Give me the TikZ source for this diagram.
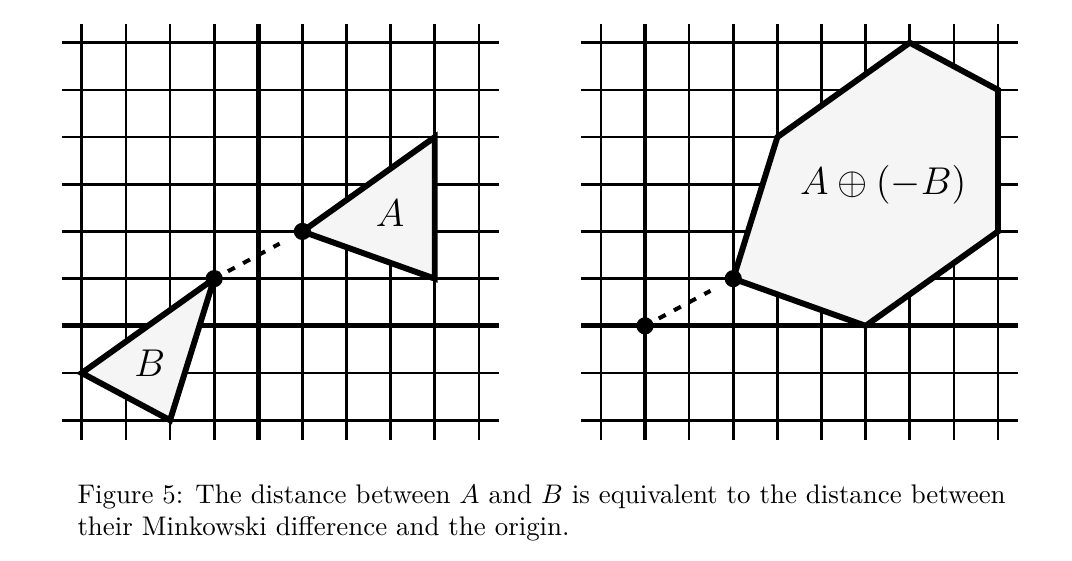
\documentclass[tikz,border=0pt]{standalone}
\usepackage{amsmath,amssymb}
\usepackage{tikz}

\begin{document}
\begin{tikzpicture}[
        x=16.40pt, y=17.54pt,
        gridline/.style = {line width=1pt},
        axis/.style = {line width=1.75pt},
        region/.style = {draw, fill=black!4, line width=2.2pt, line join=miter},
        vertex/.style = {circle, fill, inner sep=0pt, minimum size=6.4pt},
        distline/.style = {line width=1.5pt, dash pattern=on 2.9pt off 3.5pt, shorten <=2.4pt, shorten >=6.2pt},
        polylabel/.style = {font=\fontsize{14.4}{17}\selectfont}
        ]
        \useasboundingbox (-5.854,-4.967) rectangle (18.443,6.905);

        \foreach \i in {-4,...,5}
            \draw[gridline] (\i,-2.41) -- (\i,6.40);
        \foreach \j in {-2,...,6}
            \draw[gridline] (-4.45,\j) -- (5.46,\j);
        \draw[axis] (0,-2.41) -- (0,6.40);
        \draw[axis] (-4.45,0) -- (5.46,0);

        \draw[region] (1,2) -- (4,4) -- (4,1) -- cycle;
        \draw[region] (-1,1) -- (-4,-1) -- (-2,-2) -- cycle;

        \node[vertex] (a1) at (1,2) {};
        \node[vertex] (b1) at (-1,1) {};
        \draw[distline] (b1) -- (a1);
        \node[polylabel] (la) at (2.99,2.39) {$A$};
        \node[polylabel] (lb) at (-2.46,-0.80) {$B$};

        \begin{scope}[shift={(8.765,0)}]
            \foreach \i in {-1,...,8}
                \draw[gridline] (\i,-2.41) -- (\i,6.40);
            \foreach \j in {-2,...,6}
                \draw[gridline] (-1.45,\j) -- (8.46,\j);
            \draw[axis] (0,-2.41) -- (0,6.40);
            \draw[axis] (-1.45,0) -- (8.46,0);

            \draw[region] (2,1) -- (5,0) -- (8,2) -- (8,5) -- (6,6) -- (3,4) -- cycle;

            \node[vertex] (o) at (0,0) {};
            \node[vertex] (d1) at (2,1) {};
            \draw[distline] (o) -- (d1);
            \node[polylabel] (ld) at (5.40,2.99) {$A\oplus(-B)$};
        \end{scope}

        \node[anchor=base west, inner sep=0pt, text width=345pt, align=justify] (caption) at (-4.109,-3.765)
            {Figure 5: The distance between $A$ and $B$ is equivalent to the distance between their Minkowski difference and the origin.};
\end{tikzpicture}
\end{document}
